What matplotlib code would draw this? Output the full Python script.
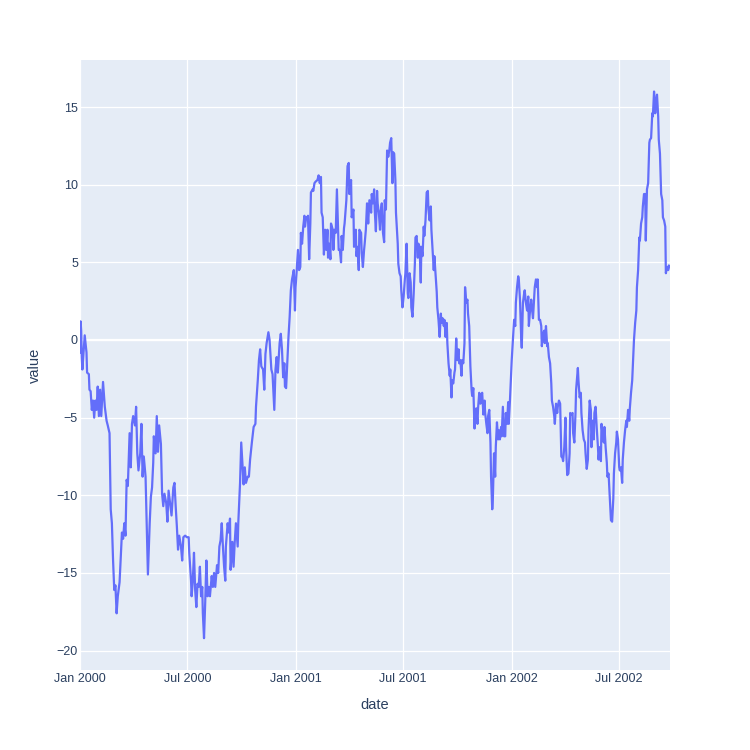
import matplotlib
matplotlib.use("Agg")
import matplotlib.pyplot as plt
import pandas as pd

# Day offsets from 2000-01-01 and values
day_offsets = [
    0, 1, 2, 3, 4, 8, 11, 12, 15, 16, 18, 20, 22, 24, 26, 28, 30, 32, 34, 36, 39, 42, 45, 47, 50,
    52, 54, 56, 58, 60, 62, 64, 67, 69, 71, 73, 75, 77, 79, 81, 84, 86, 88, 90, 93, 95, 97, 99,
    102, 104, 106, 108, 111, 113, 115, 118, 120, 122, 124, 125, 128, 130, 132, 134, 137, 139, 141,
    143, 146, 148, 150,
    155, 158, 160, 162, 164, 166, 168, 171, 173, 175, 178, 181, 184, 185, 188, 189, 191, 193, 195,
    197, 199, 201, 203, 205, 207, 208, 210, 212, 214, 216, 218, 220, 223, 225, 227, 229, 232, 234,
    236, 238, 240, 242, 244, 246, 247, 250, 252, 254, 255, 258, 260, 262, 264, 267, 268, 271, 273,
    275, 277, 279, 281, 284, 286, 288, 291, 294, 297, 298, 301, 303, 305, 307, 310, 312, 314, 316,
    319, 321,
    324, 326, 329, 331, 333, 335, 338, 340, 342, 344, 346, 347, 349, 351, 353, 355, 357, 359, 360,
    362, 364, 365, 367, 369, 371, 373, 374, 376, 378, 380, 381, 383, 385, 386, 388, 390, 391, 394,
    395, 397, 399, 402, 404, 406, 408, 409, 411, 413, 415, 417, 419, 420, 422, 424, 425, 428, 429,
    431, 433, 435, 437, 438, 440, 442, 443, 445, 447, 448, 451, 453, 455, 456, 459, 460, 463, 464,
    467, 468, 470, 472, 473, 476, 477, 479, 481, 482, 484, 486, 488, 490,
    493, 494, 496, 498, 499, 501, 503, 504, 506, 508, 509, 511, 513, 515, 516, 518, 520, 522, 524,
    525, 527, 529, 530, 532, 534, 535, 538, 539, 541, 543, 544, 546, 548, 550, 551, 553, 555, 556,
    558, 560, 561, 563, 565, 567, 568, 570, 572, 573, 575, 577, 578, 580, 582, 583, 585, 587, 589,
    590, 592, 594, 595, 597, 599, 600, 602, 604, 605, 607, 609, 611, 612, 614, 616, 617, 619, 621,
    622, 624, 626, 627, 629, 630, 632, 634, 635, 637, 639, 641, 642, 644,
    646, 647, 649, 651, 652, 654, 656, 657, 659, 661, 663, 664, 666, 668, 669, 671, 673, 674, 676,
    678, 679, 681, 683, 685, 686, 688, 690, 691, 693, 695, 696, 698, 699, 701, 703, 704, 706, 708,
    709, 711, 713, 714, 716, 718, 720, 721, 723, 725, 726, 728, 730, 731, 733, 735, 737, 738, 740,
    742, 743, 745, 747, 748, 750, 752, 753, 755, 757, 759, 760, 762, 764, 765, 767, 769, 770, 772,
    774, 775, 777, 779, 781, 782, 784, 786, 787, 789, 791, 792, 794, 796, 798, 799, 801, 803, 804,
    806, 808, 809, 811, 813,
    815, 817, 818, 820, 822, 823, 825, 827, 829, 830, 832, 834, 835, 837, 839, 840, 843, 844, 846,
    848, 849, 851, 853, 855, 856, 858, 860, 861, 863, 865, 866, 868, 870, 871, 873, 875, 877, 878,
    880, 882, 883, 885, 887, 888, 890, 892, 893, 895, 897, 899, 901, 903, 904, 906, 908, 909, 911,
    913, 914, 916, 918, 919, 921, 923, 925, 926, 928, 930, 931, 933, 935, 936, 938, 940, 942, 943,
    945, 947, 948, 950, 952, 953, 955, 957, 958, 960, 962, 964, 965, 967, 969, 970, 972, 974, 975,
    977, 979, 980, 982, 984, 986, 987, 989, 991, 992, 994, 996, 997, 999,
]

values = [
    -0.8, 1.2, 0.6, -1.1, -1.9, 0.3, -0.8, -2.1, -2.2, -3.2, -3.3, -4.5, -3.9, -5.0, -3.9, -4.5,
    -3.0, -4.9, -3.2, -4.9, -2.7, -4.3, -5.2, -5.5, -6.0,
    -10.9, -11.8, -14.2, -16.1, -15.8, -17.6, -16.5, -15.6, -14.0, -12.4, -12.8, -11.8, -12.6,
    -9.0, -9.4, -6.0, -8.2, -5.4, -4.9, -5.5, -4.3, -7.3, -8.4,
    -7.3, -5.4, -8.8, -7.5, -8.8, -12.0, -15.1, -11.8, -10.1, -9.5, -7.9, -6.2, -7.3, -4.9, -7.2,
    -5.5, -6.7, -9.9, -10.7, -9.9, -10.5, -11.7, -9.7,
    -11.3, -9.5, -9.2, -10.7, -12.0, -13.5, -12.6, -13.3, -14.2, -12.7, -12.6, -12.7, -12.7, -13.7,
    -15.5, -16.5, -15.5, -13.7, -16.1, -17.2, -15.7, -15.9, -14.6, -16.5, -15.9, -17.6, -19.2,
    -16.9, -14.2, -16.5, -15.9, -16.5, -15.2, -15.9, -15.0, -15.9, -14.5, -15.0, -13.3, -12.9,
    -11.8, -13.3, -14.6, -15.5, -13.3, -11.8, -12.4, -11.5, -14.8, -13.0, -14.6, -13.0, -11.8,
    -13.3, -11.8, -9.2, -6.6, -7.9, -9.3, -8.2, -9.2, -8.8, -8.8, -7.7, -6.6, -5.6, -5.4, -4.3,
    -2.6, -1.3, -0.6, -1.7, -1.9, -3.2, -0.9, -0.2, 0.5, 0.0,
    -1.9, -2.2, -4.5, -1.9, -1.1, -2.1, -0.2, 0.4, -0.6, -2.4, -1.5, -3.0, -3.1, -1.5, 0.2, 1.5,
    3.2, 3.9, 4.1, 4.5, 1.9, 3.4, 4.5, 5.8, 4.5, 4.7, 6.9, 6.2, 7.3, 8.0, 7.3, 7.9, 7.8, 8.0, 5.2,
    7.5, 9.5, 9.7, 9.6, 10.1, 10.2, 10.3, 10.6, 10.1, 10.5, 8.2, 7.9, 5.5, 7.1, 5.8, 7.1, 5.3, 6.2,
    5.2, 7.5, 7.1, 5.8, 7.1, 6.9, 9.7, 7.1, 5.8, 5.8, 5.0, 6.7, 5.8, 7.2, 7.5, 9.0, 11.2, 11.4, 9.4,
    10.3, 7.9, 8.4, 6.0, 7.1, 5.4, 6.0, 4.5, 7.1, 6.9, 5.6, 4.7, 5.8, 6.2, 7.1, 8.8, 7.5, 9.0,
    8.2, 9.4, 8.8, 9.7, 8.4, 7.0, 9.6, 8.8, 8.2, 7.1, 8.2, 8.8, 6.9, 6.3, 9.0, 8.4, 12.2, 11.8,
    12.3, 12.7, 13.0, 10.1, 12.1, 12.0, 10.3, 8.2, 6.2, 4.9, 4.3, 4.1, 3.2, 2.1, 2.8, 3.9, 4.3, 6.2,
    3.0, 2.7, 4.3, 3.7, 2.1, 1.5, 3.0, 4.9, 6.6, 6.7, 5.3, 6.2, 6.0, 3.7, 6.0, 5.4, 7.3, 6.7, 7.7,
    9.5, 9.6, 8.4, 7.7, 8.6, 7.1, 5.8, 4.5, 5.4, 4.3, 3.1, 2.1, 1.3, 0.2, 1.7, 1.1, 1.4, 0.9, 1.3,
    0.2, 1.1, -0.2, -1.5, -2.3, -1.9, -3.7, -2.6, -2.8, -2.1, -1.9, 0.1, -1.3, -0.6, -1.5, -1.3,
    -2.3, -1.3, -1.5, -0.2, 3.4, 2.4, 2.6, 1.7, 0.9, -1.7, -3.2, -3.6, -3.1, -5.7, -4.9, -4.4,
    -5.4, -4.4, -3.4, -4.1, -3.6, -3.4, -4.8, -3.9, -4.7, -5.4, -6.0, -4.9, -4.5, -6.6, -8.8,
    -10.9, -10.3, -7.3, -8.8, -6.9, -5.3, -6.4, -5.8, -6.4, -5.6, -6.2, -4.3, -6.2, -6.2, -4.7,
    -5.4, -4.0, -5.4, -3.9, -2.1, -1.3, 0.0, 1.3, 0.9, 2.4, 3.4, 4.1, 3.9, 2.6, 0.2, -0.5, 2.4,
    3.0, 3.2, 2.4, 1.9, 2.8, 0.9, 1.9, 2.6, 2.1, 1.4, 2.8, 3.4, 3.9, 3.4, 3.9, 1.3, 1.3, 0.9, -0.4,
    0.4, 0.6, -0.2, 0.9, -0.4, -0.2, -1.1, -1.5, -2.8, -3.9, -4.3, -4.9, -5.4, -4.1, -4.7, -4.3,
    -3.9, -4.1,
    -7.5, -7.6, -7.8, -6.9, -5.0, -6.9, -8.7, -8.6, -7.3, -4.7, -4.8, -4.7, -6.0, -6.6, -4.7, -3.2,
    -1.8, -2.6, -3.7, -3.4, -4.7, -5.8, -6.4, -6.6, -7.3, -8.3, -7.7, -5.8, -3.9, -4.5, -6.9, -5.2,
    -6.4, -4.7, -4.3, -5.7, -6.9, -7.7, -6.9, -7.8, -5.4, -6.2, -6.6, -5.6, -6.9, -7.9, -8.8, -8.6,
    -10.1, -11.6, -11.7, -10.2, -8.6, -7.3, -6.6, -5.9, -6.4, -8.2, -8.4, -8.2, -9.2, -7.7, -6.6,
    -5.8, -5.2, -5.6, -4.5, -5.2, -4.4, -3.4, -2.6, -1.7, 0.0, 1.1, 1.9, 3.4, 4.5, 6.6, 6.4, 7.5,
    7.9, 8.6, 9.4, 9.4, 6.4, 9.7, 10.1, 12.7, 12.9, 13.0, 14.6, 14.4, 16.0, 14.6, 15.3, 15.8, 14.4,
    12.9, 12.0, 9.4, 9.0, 7.9, 7.7, 7.3, 4.3, 4.7, 4.5, 4.8, 4.7,
]

start_date = "2000-01-01"
tick_dates = ["2000-01-01", "2000-07-01", "2001-01-01", "2001-07-01", "2002-01-01", "2002-07-01"]
tick_labels = ["Jan 2000", "Jul 2000", "Jan 2001", "Jul 2001", "Jan 2002", "Jul 2002"]
y_ticks = [-20, -15, -10, -5, 0, 5, 10, 15]

dates = pd.Timestamp(start_date) + pd.to_timedelta(day_offsets, unit="D")

plt.rcParams["font.family"] = ["Liberation Sans", "DejaVu Sans"]
TEXT = "#2a3f5f"

fig = plt.figure(figsize=(7.5, 7.5), dpi=100, facecolor="white")
ax = fig.add_axes([80 / 750, 80 / 750, 590 / 750, 610 / 750])
ax.set_facecolor("#E5ECF6")

ax.plot(dates, values, color="#636EFA", linewidth=1.6, solid_joinstyle="round", zorder=3)

ax.set_xlim(dates[0], dates[-1])
ax.set_ylim(-21.25, 18.03)

ax.set_xticks(pd.to_datetime(tick_dates))
ax.set_xticklabels(tick_labels)
ax.set_yticks(y_ticks)
ax.set_yticklabels([str(v).replace("-", "\u2212") for v in y_ticks])

ax.grid(True, color="white", linewidth=0.9, zorder=1)
ax.axhline(0, color="white", linewidth=1.6, zorder=2)
ax.set_axisbelow(True)
for s in ax.spines.values():
    s.set_visible(False)
ax.tick_params(axis="both", length=0, labelsize=9, labelcolor=TEXT)
ax.tick_params(axis="y", pad=1.5)
ax.tick_params(axis="x", pad=2.5)

ax.text(-45 / 590, 0.5, "value", transform=ax.transAxes, rotation=90,
        ha="center", va="center", fontsize=10.5, color=TEXT)
ax.text(0.5, -35 / 610, "date", transform=ax.transAxes,
        ha="center", va="center", fontsize=10.5, color=TEXT)

fig.savefig("out.png", dpi=100, facecolor="white")
